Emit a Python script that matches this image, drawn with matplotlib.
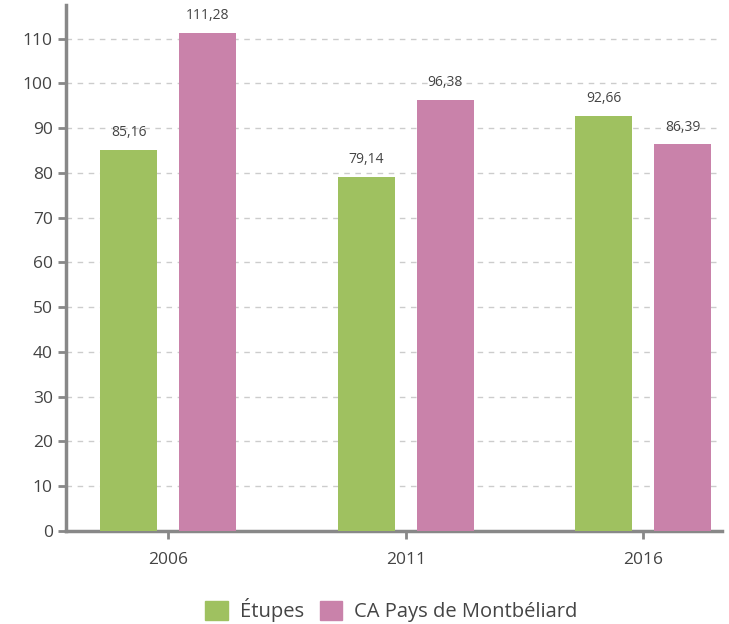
import numpy as np
import matplotlib.pyplot as plt
from matplotlib.patches import Patch

years = ['2006', '2011', '2016']
etupes = [85.16, 79.14, 92.66]
ca_pays = [111.28, 96.38, 86.39]
series_names = ['Étupes', 'CA Pays de Montbéliard']

green = '#9fc160'
pink = '#c982aa'
txt = '#444444'

plt.rcParams['font.family'] = ['Open Sans', 'DejaVu Sans']

fig = plt.figure(figsize=(7.29, 6.24), dpi=100)
ax = fig.add_axes([0.0905, 0.149, 0.8995, 0.843])

x = np.arange(len(years))
w = 0.24
off = 0.166
b1 = ax.bar(x - off, etupes, w, color=green, zorder=3)
b2 = ax.bar(x + off, ca_pays, w, color=pink, zorder=3)

def lab(v):
    return f'{v:.2f}'.replace('.', ',')

for bars, vals in [(b1, etupes), (b2, ca_pays)]:
    for b, v in zip(bars, vals):
        ax.annotate(lab(v), (b.get_x() + b.get_width() / 2, v), xytext=(0, 7),
                    textcoords='offset points', ha='center', va='bottom',
                    fontsize=10, color=txt)

ax.set_xlim(-0.43, 2.33)
ax.set_ylim(0, 117.5)
ax.set_yticks(range(0, 111, 10))
ax.set_xticks(x)
ax.set_xticklabels(years)
ax.tick_params(axis='both', colors='#888888', labelcolor=txt, labelsize=12.5, width=2, length=6)
ax.tick_params(axis='x', pad=9)

ax.grid(axis='y', linestyle=(0, (4, 4)), color='#cccccc', linewidth=1, zorder=0)
for s in ['top', 'right']:
    ax.spines[s].set_visible(False)
for s in ['left', 'bottom']:
    ax.spines[s].set_color('#888888')
    ax.spines[s].set_linewidth(2.5)

handles = [Patch(color=green), Patch(color=pink)]
fig.legend(handles, series_names, loc='center', bbox_to_anchor=(0.537, 0.022),
           ncol=2, frameon=False, fontsize=14.5, handlelength=1.1, handleheight=1.1,
           columnspacing=0.8, handletextpad=0.6, labelcolor=txt)

fig.savefig('out.png', dpi=100)
